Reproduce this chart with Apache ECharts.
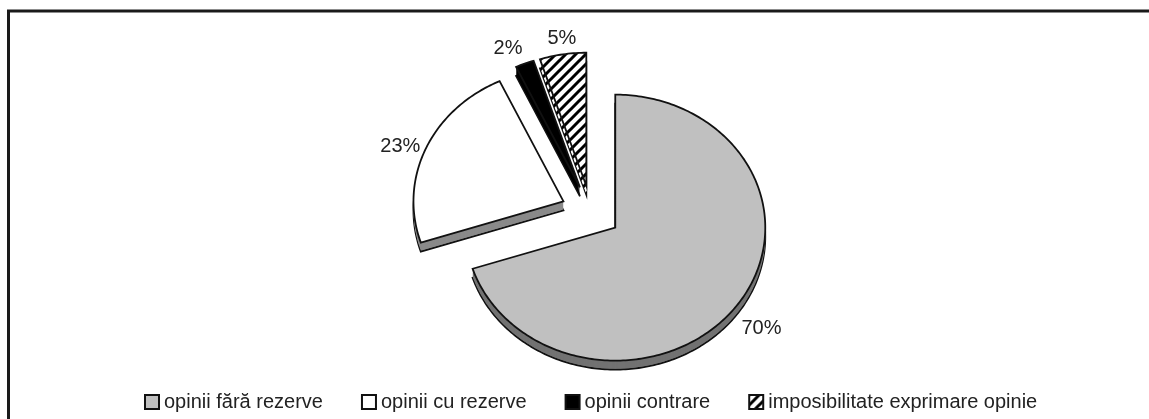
<!DOCTYPE html>
<html>
<head>
<meta charset="utf-8">
<script src="https://cdn.jsdelivr.net/npm/echarts@6/dist/echarts.min.js"></script>
<style>
  html, body { margin: 0; padding: 0; background: #fff; }
  #chart { width: 1149px; height: 419px; }
</style>
</head>
<body>
<div id="chart"></div>
<script>
// data
const categories = ['opinii fără rezerve', 'opinii cu rezerve', 'opinii contrare', 'imposibilitate exprimare opinie'];
const values = [70, 23, 2, 5];

// tilted pie layout
const CX = 591, CY = 212, RX = 150, RY = 133, DEPTH = 9, EXPLODE = 30;
const FONT = '"Liberation Sans", Arial, sans-serif';

// diagonal hatching for the last slice
function hatch() {
  const s = 10;
  const c = document.createElement('canvas');
  c.width = s; c.height = s;
  const g = c.getContext('2d');
  g.fillStyle = '#fff';
  g.fillRect(0, 0, s, s);
  g.strokeStyle = '#000';
  g.lineWidth = 3;
  g.beginPath();
  g.moveTo(0, s); g.lineTo(s, 0);
  g.moveTo(-s / 2, s / 2); g.lineTo(s / 2, -s / 2);
  g.moveTo(s / 2, 1.5 * s); g.lineTo(1.5 * s, s / 2);
  g.stroke();
  return { image: c, repeat: 'repeat' };
}
const hatchFill = hatch();
const faceColors = ['#c0c0c0', '#ffffff', '#000000', hatchFill];
const sideColors = ['#727272', '#8a8a8a', '#000000', hatchFill];

const total = values.reduce((a, b) => a + b, 0);

function sliceRenderer(i) {
  return function (params, api) {
    let before = 0;
    for (let j = 0; j < i; j++) before += values[j];
    const v = api.value(0);
    const a0 = before / total * Math.PI * 2;
    const a1 = (before + v) / total * Math.PI * 2;
    const mid = (a0 + a1) / 2;
    const sx = Math.sin(mid), sy = -Math.cos(mid);
    const ox = CX + EXPLODE * sx;
    const oy = CY + EXPLODE * (RY / RX) * sy;

    const pts = [[ox, oy]];
    const n = Math.max(2, Math.ceil((a1 - a0) / (Math.PI / 180)));
    for (let k = 0; k <= n; k++) {
      const a = a0 + (a1 - a0) * k / n;
      pts.push([ox + RX * Math.sin(a), oy - RY * Math.cos(a)]);
    }

    const children = [];
    for (let d = DEPTH; d >= 1; d--) {
      children.push({
        type: 'polygon',
        shape: { points: pts.map(p => [p[0], p[1] + d]) },
        style: { fill: sideColors[i], stroke: d === DEPTH ? '#111' : null, lineWidth: 1.8 }
      });
    }
    children.push({
      type: 'polygon',
      shape: { points: pts },
      style: { fill: faceColors[i], stroke: '#111', lineWidth: 1.8 }
    });

    // percentage label just outside the rim
    const gap = 6;
    const lx = ox + RX * sx + sx * gap;
    const ly = oy + RY * sy + sy * gap + (sy > 0 ? DEPTH : 0);
    const align = sx > 0.3 ? 'left' : (sx < -0.3 ? 'right' : 'center');
    const valign = sy > 0.5 ? 'top' : (sy < -0.5 ? 'bottom' : 'middle');
    children.push({
      type: 'text',
      x: lx, y: ly,
      style: {
        text: v + '%', fontSize: 20, fontFamily: FONT, fill: '#222',
        align: align, verticalAlign: valign
      }
    });
    return { type: 'group', children: children };
  };
}

const chart = echarts.init(document.getElementById('chart'));
chart.setOption({
  animation: false,
  backgroundColor: '#fff',
  legend: {
    data: categories,
    left: 139,
    top: 387,
    icon: 'rect',
    itemWidth: 14,
    itemHeight: 14,
    itemGap: 38,
    selectedMode: false,
    itemStyle: { borderColor: '#111', borderWidth: 2 },
    textStyle: { fontSize: 20, fontFamily: FONT, color: '#222' }
  },
  graphic: [
    { type: 'line', silent: true, shape: { x1: 7, y1: 11, x2: 1149, y2: 11 }, style: { stroke: '#1a1a1a', lineWidth: 3 } },
    { type: 'line', silent: true, shape: { x1: 8.5, y1: 10, x2: 8.5, y2: 419 }, style: { stroke: '#1a1a1a', lineWidth: 3 } }
  ],
  series: categories.map((name, i) => ({
    type: 'custom',
    name: name,
    coordinateSystem: 'none',
    silent: true,
    itemStyle: { color: faceColors[i] },
    data: [values[i]],
    renderItem: sliceRenderer(i)
  }))
});
</script>
</body>
</html>
